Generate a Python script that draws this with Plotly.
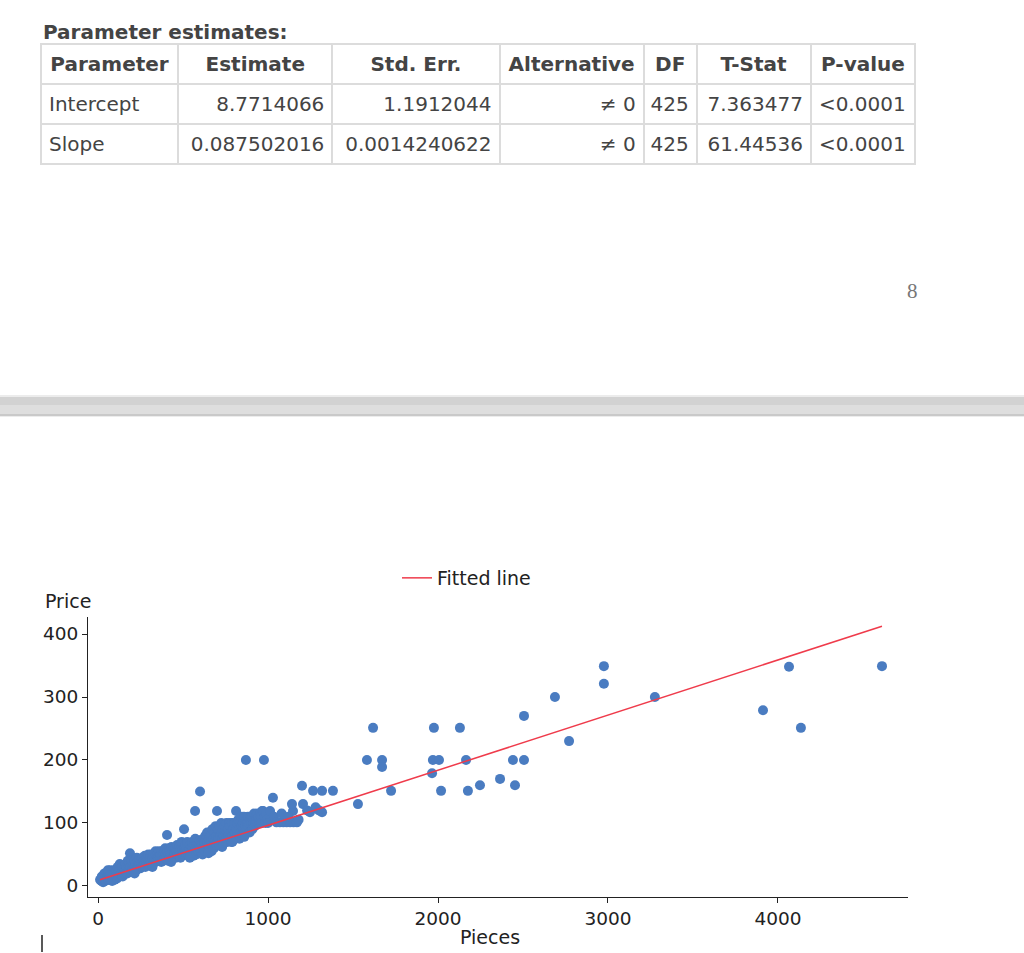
import numpy as np
import plotly.graph_objects as go

# ---------------- table data ----------------
table_header = ["Parameter", "Estimate", "Std. Err.", "Alternative", "DF", "T-Stat", "P-value"]
param_names = ["Intercept", "Slope"]
estimates = ["8.7714066", "0.087502016"]
std_errs = ["1.1912044", "0.0014240622"]
alternatives = ["\u2260 0", "\u2260 0"]
dfs = ["425", "425"]
t_stats = ["7.363477", "61.44536"]
p_values = ["&lt;0.0001", "&lt;0.0001"]
intercept = 8.7714066
slope = 0.087502016

# ---------------- scatter data ----------------
dense_pieces = [
    12, 20, 25, 30, 35, 40, 45, 48, 22, 38, 42, 50,
    55, 60, 62, 68, 70, 75, 80, 85, 88, 90, 95, 98, 58, 72, 83,
    102, 105, 108, 112, 115, 118, 122, 125, 128, 132, 135, 140, 142, 145, 148,
    152, 155, 158, 162, 165, 168, 172, 175, 178, 182, 185, 188, 190, 195, 198,
    202, 205, 208, 212, 215, 218, 222, 225, 228, 232, 235, 238, 242, 245, 248,
    252, 255, 258, 262, 265, 268, 272, 275, 278, 282, 285, 288, 292, 295, 298,
    302, 305, 308, 312, 315, 318, 322, 325, 328, 332, 335, 338, 342, 345, 348,
    352, 355, 358, 362, 365, 368, 372, 375, 378, 382, 385, 388, 392, 395, 398,
    402, 406, 408, 412, 415, 418, 422, 425, 428, 432, 435, 438, 442, 445, 448,
    452, 455, 458, 462, 465, 468, 472, 475, 478, 482, 485, 488, 492, 495, 498,
    502, 506, 508, 512, 515, 518, 522, 525, 528, 532, 535, 538, 542, 545, 548,
    552, 555, 558, 562, 565, 568, 571, 572, 575, 578, 582, 585, 588, 592, 595, 598,
    600, 602, 605, 608, 612, 615, 618, 622, 625, 628, 632, 635, 638, 642, 645, 648,
    652, 655, 658, 662, 665, 668, 672, 675, 678, 682, 685, 688, 692, 695, 698,
    700, 702, 705, 708, 712, 715, 718, 722, 725, 728, 732, 735, 738, 742, 745, 748,
    752, 755, 758, 762, 765, 768, 772, 775, 778, 782, 785, 788, 792, 795, 798,
    802, 805, 808, 812, 815, 818, 822, 825, 828, 832, 835, 838, 842, 845, 848,
    852, 855, 858, 862, 865, 868, 870, 872, 875, 878, 882, 885, 888, 892, 895, 898,
    902, 905, 908, 912, 915, 918, 922, 925, 928, 932, 935, 938, 942, 945, 948,
    952, 955, 958, 962, 965, 971, 976, 980, 985, 990, 995, 1000,
    215, 320, 430, 540, 650, 730, 790, 860,
]
dense_price = [
    10, 8, 12, 6, 10, 15, 12, 20, 15, 20, 8, 10,
    15, 10, 20, 13, 25, 10, 15, 20, 12, 25, 18, 10, 25, 17, 8,
    20, 15, 25, 12, 30, 20, 15, 25, 35, 18, 28, 20, 30, 15, 25,
    20, 30, 25, 35, 22, 30, 20, 40, 28, 25, 35, 52, 30, 22, 40,
    30, 25, 35, 28, 40, 30, 35, 25, 45, 32, 38, 30, 42, 35, 28,
    40, 30, 35, 45, 32, 40, 35, 48, 30, 42, 38, 45, 35, 50, 40,
    35, 45, 40, 50, 38, 45, 42, 35, 50, 45, 40, 55, 48, 40, 50,
    45, 40, 55, 48, 42, 50, 38, 55, 45, 50, 40, 52, 45, 60, 50,
    45, 81, 55, 40, 50, 60, 45, 55, 50, 62, 48, 55, 45, 60, 52,
    50, 60, 45, 55, 65, 50, 58, 48, 62, 55, 45, 60, 70, 52, 58,
    50, 90, 60, 55, 65, 50, 60, 70, 55, 48, 62, 58, 65, 50, 60,
    55, 70, 60, 48, 65, 55, 119, 75, 60, 50, 70, 58, 65, 55, 62, 72,
    150, 60, 55, 70, 65, 50, 75, 60, 70, 55, 80, 65, 60, 85, 70, 58,
    65, 75, 60, 80, 70, 55, 90, 65, 75, 60, 85, 70, 95, 65, 80,
    119, 70, 90, 75, 65, 95, 80, 70, 100, 85, 75, 90, 80, 70, 95, 85,
    75, 100, 85, 70, 90, 80, 100, 75, 95, 85, 70, 100, 80, 90, 75,
    100, 85, 75, 119, 90, 100, 80, 105, 90, 75, 100, 85, 110, 95, 80,
    100, 90, 110, 85, 100, 95, 200, 105, 90, 100, 110, 95, 100, 85, 105, 110,
    100, 110, 90, 105, 100, 115, 95, 100, 110, 105, 100, 115, 100, 110, 105,
    100, 115, 110, 100, 119, 119, 200, 110, 100, 115, 105, 100,
    20, 30, 38, 45, 52, 62, 70, 78,
]
mid_pieces = [1012, 1029, 1035, 1050, 1070, 1090, 1110, 1130, 1150, 1170, 1147, 1141,
              1206, 1200, 1247, 1265, 1318, 1318, 1382, 1080, 1120, 1180, 1230, 1280, 1300]
mid_price = [119, 140, 110, 101, 101, 101, 101, 101, 101, 101, 119, 130,
             130, 159, 117, 151, 151, 117, 151, 115, 110, 105, 120, 125, 120]
sparse_pieces = [1529, 1582, 1618, 1671, 1671, 1724, 1965, 1976, 1970, 2006, 2018, 2129,
                 2165, 2176, 2247, 2365, 2441, 2453, 2506, 2506, 2688, 2771, 2976, 2976,
                 3276, 3912, 4065, 4135, 4612]
sparse_price = [130, 200, 251, 200, 189, 151, 179, 251, 200, 200, 151, 251,
                200, 151, 160, 170, 200, 160, 200, 270, 300, 230, 349, 321,
                300, 279, 348, 251, 349]

pieces = dense_pieces + mid_pieces + sparse_pieces
price = dense_price + mid_price + sparse_price

x_ticks = [0, 1000, 2000, 3000, 4000]
y_ticks = [0, 100, 200, 300, 400]

W, H = 1024, 953
def px(x):
    return x / W
def py(y):
    return 1 - y / H

FONT = "DejaVu Sans"
TXT = "#444444"

fig = go.Figure()

# ---------------- table ----------------
cols = [param_names, estimates, std_errs, alternatives, dfs, t_stats, p_values]
cols = [["<span>%s</span>" % v for v in col] for col in cols]
fig.add_trace(go.Table(
    domain=dict(x=[px(41), px(915)], y=[py(170), py(44)]),
    columnwidth=[137, 154, 167, 144, 53, 114, 104],
    header=dict(values=["<b>%s</b>" % h for h in table_header],
                align="center", height=37, fill_color="white",
                line=dict(color="#dcdcdc", width=2),
                font=dict(family=FONT, size=20, color=TXT)),
    cells=dict(values=cols,
               align=["left", "right", "right", "right", "right", "right", "left"],
               height=38, fill_color="white",
               line=dict(color="#dcdcdc", width=2),
               font=dict(family=FONT, size=20, color=TXT)),
))

# ---------------- scatter + fitted line ----------------
fig.add_trace(go.Scatter(
    x=pieces, y=price, mode="markers", showlegend=False,
    marker=dict(size=10, color="#4a7cc1", line=dict(width=0)),
))
x_line = np.array([min(pieces), max(pieces)])
fig.add_trace(go.Scatter(
    x=x_line, y=intercept + slope * x_line, mode="lines", name="Fitted line",
    line=dict(color="#ef3b4b", width=1.5),
))

axis_common = dict(showline=True, linecolor="#222", linewidth=1, ticks="outside",
                   ticklen=5, tickcolor="#222", showgrid=False, zeroline=False,
                   tickfont=dict(family=FONT, size=18.5, color="#222"))
fig.update_layout(
    width=W, height=H, margin=dict(l=0, r=0, t=0, b=0),
    paper_bgcolor="white", plot_bgcolor="white",
    xaxis=dict(domain=[px(88), px(908)], range=[-59, 4765], tickvals=x_ticks, **axis_common),
    yaxis=dict(domain=[py(897), py(617)], range=[-17.5, 427], tickvals=y_ticks, **axis_common),
    showlegend=True,
    legend=dict(x=px(397), y=py(559), xanchor="left", yanchor="top", orientation="h",
                bgcolor="rgba(0,0,0,0)", font=dict(family=FONT, size=19, color="#222")),
)

# ---------------- page separator bar ----------------
bar_layers = [(395, 397, "#ececec"), (397, 405, "#d2d2d2"), (405, 414, "#dedede"),
              (414, 416, "#c9c9c9"), (416, 417, "#ececec")]
for y0, y1, c in bar_layers:
    fig.add_shape(type="rect", xref="paper", yref="paper", x0=0, x1=1,
                  y0=py(y1), y1=py(y0), fillcolor=c, line=dict(width=0), layer="below")

# text cursor mark
fig.add_shape(type="line", xref="paper", yref="paper", x0=px(42), x1=px(42),
              y0=py(952), y1=py(935), line=dict(color="#222", width=1.5))

# ---------------- annotations ----------------
fig.add_annotation(text="<b>Parameter estimates:</b>", x=px(41), y=py(32), xref="paper", yref="paper",
                   xanchor="left", yanchor="middle", showarrow=False,
                   font=dict(family=FONT, size=20, color=TXT))
fig.add_annotation(text="8", x=px(912), y=py(291), xref="paper", yref="paper",
                   xanchor="center", yanchor="middle", showarrow=False,
                   font=dict(family="Liberation Serif", size=21, color="#777"))
fig.add_annotation(text="Price", x=px(68), y=py(601), xref="paper", yref="paper",
                   xanchor="center", yanchor="middle", showarrow=False,
                   font=dict(family=FONT, size=19, color="#222"))
fig.add_annotation(text="Pieces", x=px(490), y=py(937), xref="paper", yref="paper",
                   xanchor="center", yanchor="middle", showarrow=False,
                   font=dict(family=FONT, size=19, color="#222"))

fig.write_html("out.html", config={"displayModeBar": False},
               post_script="document.body.style.margin='0';")
